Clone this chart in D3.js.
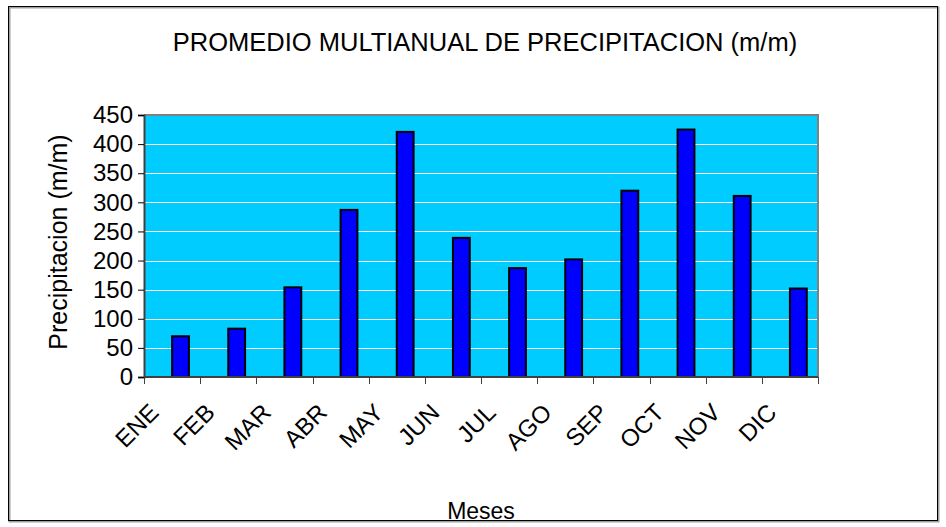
<!DOCTYPE html>
<html>
<head>
<meta charset="utf-8">
<script src="https://cdn.jsdelivr.net/npm/d3@7"></script>
<style>
  body { margin: 0; background: #fff; }
  text { font-family: "Liberation Sans", Arial, sans-serif; fill: #000; }
</style>
</head>
<body>
<svg id="chart" width="946" height="527"></svg>
<script>
// datos
var meses = ['ENE', 'FEB', 'MAR', 'ABR', 'MAY', 'JUN', 'JUL', 'AGO', 'SEP', 'OCT', 'NOV', 'DIC'];
var precipitacion = [70, 83, 154, 287, 421, 239, 187, 202, 320, 425, 311, 152];
var yTicks = [0, 50, 100, 150, 200, 250, 300, 350, 400, 450];

var svg = d3.select('#chart');
var plotLeft = 144, plotRight = 818, plotTop = 115, plotBottom = 377;

// marco exterior
svg.append('rect')
    .attr('x', 9.5).attr('y', 7.5).attr('width', 929).attr('height', 514)
    .attr('fill', 'none').attr('stroke', '#a0a0a0').attr('stroke-width', 2);
svg.append('rect')
    .attr('x', 8.5).attr('y', 6.5).attr('width', 929).attr('height', 514)
    .attr('fill', 'none').attr('stroke', '#000').attr('stroke-width', 1);

var x = d3.scaleBand().domain(meses).range([plotLeft, plotRight]);
var y = d3.scaleLinear().domain([0, 450]).range([plotBottom, plotTop]);

// fondo
svg.append('rect')
    .attr('x', plotLeft).attr('y', plotTop)
    .attr('width', plotRight - plotLeft).attr('height', plotBottom - plotTop)
    .attr('fill', '#00ccff');

// lineas de cuadricula
svg.selectAll('.grid').data(yTicks.filter(function(d) { return d > 0 && d < 450; }))
    .enter().append('line')
    .attr('x1', plotLeft).attr('x2', plotRight)
    .attr('y1', function(d) { return Math.round(y(d)) + 0.5; })
    .attr('y2', function(d) { return Math.round(y(d)) + 0.5; })
    .attr('stroke', '#fff').attr('stroke-width', 1);

// barras
svg.selectAll('.bar').data(precipitacion)
    .enter().append('rect')
    .attr('x', function(d, i) { return x(meses[i]) + x.bandwidth() * 0.5; })
    .attr('y', function(d) { return y(d); })
    .attr('width', x.bandwidth() * 0.3)
    .attr('height', function(d) { return plotBottom - y(d); })
    .attr('fill', '#0000ff').attr('stroke', '#000').attr('stroke-width', 2);

// borde del area
svg.append('path')
    .attr('d', 'M' + plotLeft + ',' + plotTop + 'H' + plotRight + 'V' + plotBottom)
    .attr('fill', 'none').attr('stroke', '#808080').attr('stroke-width', 2);

// eje y
var yAxis = svg.append('g').attr('transform', 'translate(' + plotLeft + ',0)')
    .call(d3.axisLeft(y).tickValues(yTicks).tickSize(6).tickPadding(5));
yAxis.select('.domain').attr('stroke', '#404040').attr('stroke-width', 2);
yAxis.selectAll('.tick line').attr('stroke', '#000');
yAxis.selectAll('.tick text').attr('font-size', 24).attr('font-family', '"Liberation Sans", Arial, sans-serif');

// eje x
var xBounds = meses.map(function(m) { return x(m); }).concat([plotRight]);
svg.append('line')
    .attr('x1', plotLeft).attr('x2', plotRight).attr('y1', plotBottom).attr('y2', plotBottom)
    .attr('stroke', '#404040').attr('stroke-width', 2);
svg.selectAll('.xtick').data(xBounds)
    .enter().append('line')
    .attr('x1', function(d) { return Math.round(d) + 0.5; })
    .attr('x2', function(d) { return Math.round(d) + 0.5; })
    .attr('y1', plotBottom).attr('y2', plotBottom + 7)
    .attr('stroke', '#404040').attr('stroke-width', 1);

svg.selectAll('.xlabel').data(meses)
    .enter().append('text')
    .attr('transform', function(d) {
        return 'translate(' + (x(d) + x.bandwidth() / 2 - 12) + ',' + (plotBottom + 37) + ') rotate(-45)';
    })
    .attr('text-anchor', 'end')
    .attr('font-size', 24)
    .text(function(d) { return d; });

// titulos
svg.append('text')
    .attr('x', 485).attr('y', 51)
    .attr('text-anchor', 'middle').attr('font-size', 25.5)
    .text('PROMEDIO MULTIANUAL DE PRECIPITACION (m/m)');

svg.append('text')
    .attr('transform', 'translate(67,242) rotate(-90)')
    .attr('text-anchor', 'middle').attr('font-size', 25)
    .text('Precipitacion (m/m)');

svg.append('text')
    .attr('x', 481).attr('y', 519)
    .attr('text-anchor', 'middle').attr('font-size', 23)
    .text('Meses');
</script>
</body>
</html>
